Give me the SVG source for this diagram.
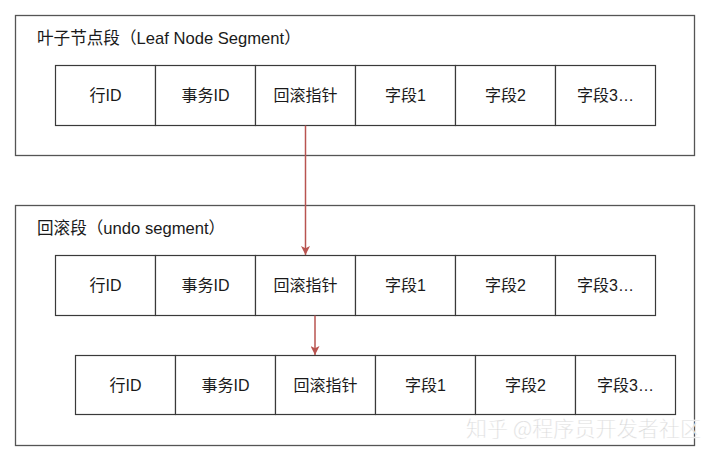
<svg xmlns="http://www.w3.org/2000/svg" width="720" height="456" viewBox="0 0 720 456">
<style>
.seg{fill:#fff;stroke:#555;stroke-width:1.3}
.cell{fill:#fff;stroke:#3a3a3a;stroke-width:1.2}
.t{font-family:"Liberation Sans","Noto Sans CJK SC",sans-serif;font-size:16px;fill:#1a1a1a}
.h{font-size:16.6px}
.c{text-anchor:middle;dominant-baseline:central}
.conn{stroke:#b85450;stroke-width:1.5;fill:none}
.wm{font-family:"Noto Sans CJK SC",sans-serif;font-size:21px;fill:#cfcfcf;stroke:#fff;stroke-width:0.4;font-weight:300}
</style>
<defs>
<marker id="ah" viewBox="0 0 10 10" refX="10" refY="5" markerWidth="9" markerHeight="9" orient="auto" markerUnits="userSpaceOnUse">
<path d="M0,0 L10,5 L0,10 L2.5,5 Z" fill="#b85450"/>
</marker>
</defs>
<rect width="720" height="456" fill="#fff"/>
<g id="leaf-segment">
<rect class="seg" x="15.5" y="15.5" width="679" height="140"/>
<text class="t h" x="37" y="44">叶子节点段（Leaf Node Segment）</text>
</g>
<g id="undo-segment">
<rect class="seg" x="15.5" y="205.5" width="679" height="240"/>
<text class="t h" x="37" y="234">回滚段（undo segment）</text>
</g>
<g id="row1">
<rect class="cell" x="55.5" y="65.5" width="100" height="60"/><text class="t c" x="105.5" y="95.5">行ID</text>
<rect class="cell" x="155.5" y="65.5" width="100" height="60"/><text class="t c" x="205.5" y="95.5">事务ID</text>
<rect class="cell" x="255.5" y="65.5" width="100" height="60"/><text class="t c" x="305.5" y="95.5">回滚指针</text>
<rect class="cell" x="355.5" y="65.5" width="100" height="60"/><text class="t c" x="405.5" y="95.5">字段1</text>
<rect class="cell" x="455.5" y="65.5" width="100" height="60"/><text class="t c" x="505.5" y="95.5">字段2</text>
<rect class="cell" x="555.5" y="65.5" width="100" height="60"/><text class="t c" x="605.5" y="95.5">字段3…</text>
</g>
<g id="row2">
<rect class="cell" x="55.5" y="255.5" width="100" height="60"/><text class="t c" x="105.5" y="285.5">行ID</text>
<rect class="cell" x="155.5" y="255.5" width="100" height="60"/><text class="t c" x="205.5" y="285.5">事务ID</text>
<rect class="cell" x="255.5" y="255.5" width="100" height="60"/><text class="t c" x="305.5" y="285.5">回滚指针</text>
<rect class="cell" x="355.5" y="255.5" width="100" height="60"/><text class="t c" x="405.5" y="285.5">字段1</text>
<rect class="cell" x="455.5" y="255.5" width="100" height="60"/><text class="t c" x="505.5" y="285.5">字段2</text>
<rect class="cell" x="555.5" y="255.5" width="100" height="60"/><text class="t c" x="605.5" y="285.5">字段3…</text>
</g>
<g id="row3">
<rect class="cell" x="75.5" y="355.5" width="100" height="59"/><text class="t c" x="125.5" y="385">行ID</text>
<rect class="cell" x="175.5" y="355.5" width="100" height="59"/><text class="t c" x="225.5" y="385">事务ID</text>
<rect class="cell" x="275.5" y="355.5" width="100" height="59"/><text class="t c" x="325.5" y="385">回滚指针</text>
<rect class="cell" x="375.5" y="355.5" width="100" height="59"/><text class="t c" x="425.5" y="385">字段1</text>
<rect class="cell" x="475.5" y="355.5" width="100" height="59"/><text class="t c" x="525.5" y="385">字段2</text>
<rect class="cell" x="575.5" y="355.5" width="100" height="59"/><text class="t c" x="625.5" y="385">字段3…</text>
</g>
<g id="connectors">
<line class="conn" x1="305.5" y1="125.5" x2="305.5" y2="255" marker-end="url(#ah)"/>
<line class="conn" x1="315" y1="315.5" x2="315" y2="355" marker-end="url(#ah)"/>
</g>
<text class="wm" x="466" y="436" textLength="235">知乎 @程序员开发者社区</text>
</svg>
